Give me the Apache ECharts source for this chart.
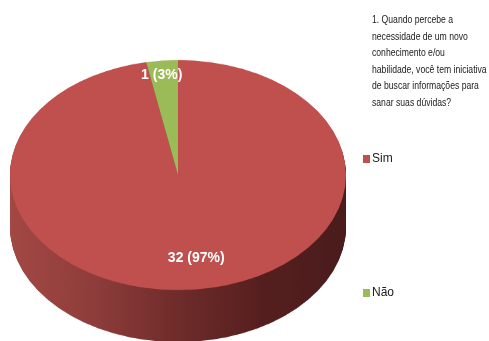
<!DOCTYPE html>
<html>
<head>
<meta charset="utf-8">
<script src="https://cdn.jsdelivr.net/npm/echarts@6/dist/echarts.min.js"></script>
<style>
  html, body { margin: 0; padding: 0; background: #fff; }
  #wrap { position: relative; width: 489px; height: 341px; overflow: hidden; }
  /* the pie body is drawn round, then flattened into an ellipse */
  #body { position: absolute; left: 0; top: 0; width: 489px; height: 500px;
          transform: scaleY(0.6845); transform-origin: 0 0; }
  #front { position: absolute; left: 0; top: 0; width: 489px; height: 341px; }
</style>
</head>
<body>
<div id="wrap">
  <div id="body"></div>
  <div id="front"></div>
</div>
<script>
// Answers to question 1
const categories = ['Sim', 'Não'];
const counts = [32, 1];
const percents = [97, 3];
const questionTitle = '1. Quando percebe a\nnecessidade de um novo\nconhecimento e/ou\nhabilidade, você tem iniciativa\nde buscar informações para\nsanar suas dúvidas?';

const topColors = ['#C0504D', '#9BBB59'];
const FONT = 'Liberation Sans, Arial, sans-serif';
const FLAT = 0.6845;          // vertical squash of the pie body
const CX = 178, CY = 255.7;   // centre of the round pie before squashing
const R = 168;
const DEPTH = 76;             // thickness of the disc before squashing

const pieData = categories.map((name, i) => ({ name, value: counts[i] }));

// side wall shading, dark red getting darker to the right
const sideFill = new echarts.graphic.LinearGradient(10, 0, 345, 0, [
  { offset: 0, color: '#A34844' },
  { offset: 0.25, color: '#8E3D3B' },
  { offset: 0.5, color: '#6F2C2A' },
  { offset: 0.75, color: '#561F1F' },
  { offset: 1, color: '#4A1C1C' }
], true);

function disc(dy, colors) {
  return {
    type: 'pie',
    silent: true,
    animation: false,
    center: [CX, CY + dy],
    radius: [0, R],
    startAngle: 90,
    clockwise: true,
    label: { show: false },
    labelLine: { show: false },
    itemStyle: { borderWidth: 0 },
    data: pieData.map((d, i) => ({ ...d, itemStyle: { color: colors[i] } }))
  };
}

const bodySeries = [];
for (let dy = DEPTH; dy >= 1; dy--) {
  bodySeries.push(disc(dy, [sideFill, '#5E7030']));
}
bodySeries.push(disc(0, topColors));

const bodyChart = echarts.init(document.getElementById('body'), null, { renderer: 'canvas' });
bodyChart.setOption({ animation: false, series: bodySeries });

// labels, legend and question text
const frontChart = echarts.init(document.getElementById('front'), null, { renderer: 'canvas' });
const labelOffsets = [[10, -3], [-8, -13]];
frontChart.setOption({
  animation: false,
  graphic: [{
    type: 'text',
    x: 372,
    y: 12,
    scaleX: 0.75,
    silent: true,
    style: {
      text: questionTitle,
      font: '11.5px ' + FONT,
      fill: '#1a1a1a',
      lineHeight: 16.5
    }
  }],
  legend: {
    orient: 'vertical',
    left: 358,
    top: 147,
    itemWidth: 7,
    itemHeight: 8,
    itemGap: 120,
    icon: 'rect',
    data: categories.map((name, i) => ({ name, itemStyle: { color: topColors[i] } })),
    textStyle: {
      fontFamily: FONT,
      fontSize: 12,
      color: '#1a1a1a',
      padding: [0, 0, 0, -3],
      lineHeight: 14
    }
  },
  series: [{
    type: 'pie',
    silent: true,
    center: [CX, CY * FLAT],
    radius: [0, R],
    startAngle: 90,
    clockwise: true,
    itemStyle: { color: 'rgba(0,0,0,0)' },
    labelLine: { show: false },
    data: pieData.map((d, i) => ({
      ...d,
      label: {
        show: true,
        position: 'inside',
        offset: labelOffsets[i],
        formatter: () => counts[i] + ' (' + percents[i] + '%)',
        color: '#ffffff',
        fontFamily: FONT,
        fontWeight: 'bold',
        fontSize: 14
      }
    }))
  }]
});
</script>
</body>
</html>
